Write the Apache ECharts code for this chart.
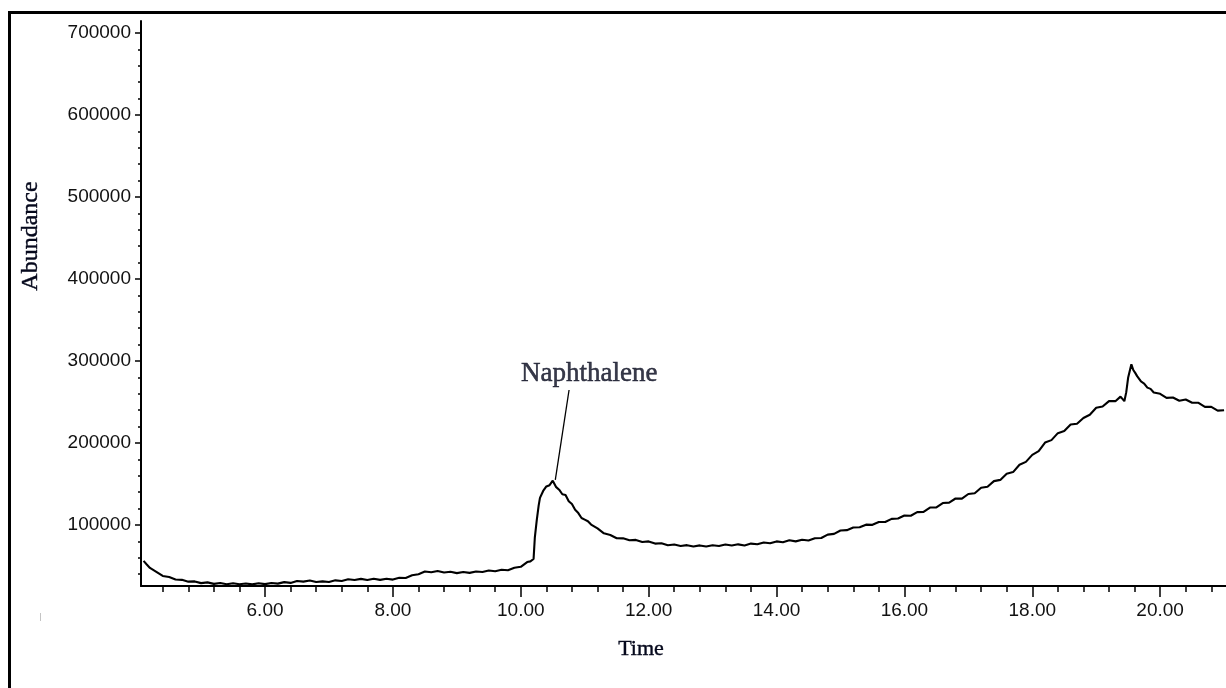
<!DOCTYPE html>
<html>
<head>
<meta charset="utf-8">
<script src="https://cdn.jsdelivr.net/npm/echarts@6/dist/echarts.min.js"></script>
<style>
  html, body { margin: 0; padding: 0; background: #ffffff; }
  #chart { width: 1226px; height: 688px; }
</style>
</head>
<body>
<div id="chart"></div>
<script>
// Total ion chromatogram: retention time (min) and abundance
const times = [
  4.10, 4.15, 4.20, 4.30, 4.40, 4.50, 4.60, 4.70, 4.80, 4.90,
  5.00, 5.10, 5.20, 5.30, 5.40, 5.50, 5.60, 5.70, 5.80, 5.90,
  6.00, 6.10, 6.20, 6.30, 6.40, 6.50, 6.60, 6.70, 6.80, 6.90,
  7.00, 7.10, 7.20, 7.30, 7.40, 7.50, 7.60, 7.70, 7.80, 7.90,
  8.00, 8.10, 8.20, 8.30, 8.40, 8.50, 8.60, 8.70, 8.80, 8.90,
  9.00, 9.10, 9.20, 9.30, 9.40, 9.50, 9.60, 9.70, 9.80, 9.90,
  10.00, 10.10, 10.15, 10.20, 10.22, 10.25, 10.28, 10.30, 10.35, 10.40,
  10.45, 10.50, 10.55, 10.60, 10.65, 10.70, 10.75, 10.80, 10.85, 10.90,
  10.95, 11.00, 11.05, 11.10, 11.20, 11.30, 11.40, 11.50, 11.60, 11.70,
  11.80, 11.90, 12.00, 12.10, 12.20, 12.30, 12.40, 12.50, 12.60, 12.70,
  12.80, 12.90, 13.00, 13.10, 13.20, 13.30, 13.40, 13.50, 13.60, 13.70,
  13.80, 13.90, 14.00, 14.10, 14.20, 14.30, 14.40, 14.50, 14.60, 14.70,
  14.80, 14.90, 15.00, 15.10, 15.20, 15.30, 15.40, 15.50, 15.60, 15.70,
  15.80, 15.90, 16.00, 16.10, 16.20, 16.30, 16.40, 16.50, 16.60, 16.70,
  16.80, 16.90, 17.00, 17.10, 17.20, 17.30, 17.40, 17.50, 17.60, 17.70,
  17.80, 17.90, 18.00, 18.10, 18.20, 18.30, 18.40, 18.50, 18.60, 18.70,
  18.80, 18.90, 19.00, 19.10, 19.20, 19.30, 19.38, 19.44, 19.47, 19.50,
  19.55, 19.58, 19.61, 19.64, 19.70, 19.75, 19.80, 19.85, 19.90, 20.00,
  20.10, 20.20, 20.30, 20.40, 20.50, 20.60, 20.70, 20.80, 20.90, 21.00
];
const abundance = [
  56200, 51800, 47600, 42900, 37800, 36600, 33500, 33100, 30900, 31200,
  29100, 30000, 28200, 29300, 27800, 28900, 27700, 28600, 27600, 28900,
  27900, 29300, 28500, 30300, 29400, 31700, 30900, 32300, 30400, 31200,
  30400, 32500, 31700, 33800, 32900, 34300, 33000, 34500, 33100, 34400,
  33400, 35700, 35400, 38600, 40000, 43300, 42300, 43800, 42000, 43000,
  41300, 42700, 41600, 43300, 42600, 44500, 43600, 45500, 44900, 47800,
  49000, 54800, 55600, 58500, 85000, 106000, 124000, 133000, 141500, 147000,
  148500, 154000, 146500, 143000, 137500, 136500, 129000, 125500, 118500, 114500,
  108500, 106500, 104500, 100500, 95800, 89800, 87800, 83900, 83700, 81400,
  81800, 79300, 80000, 77300, 77700, 75300, 76200, 74300, 75400, 73800,
  75100, 73700, 75200, 74300, 76200, 74900, 76400, 75000, 77300, 76500,
  78600, 77700, 80000, 79000, 81300, 80000, 82000, 81000, 83800, 84200,
  88300, 89200, 93300, 93700, 96900, 97200, 100400, 100200, 103600, 103700,
  107500, 107900, 111600, 111300, 115700, 115900, 121300, 121400, 126800, 127300,
  132300, 132200, 137800, 138700, 145500, 146600, 153500, 155000, 162500, 164500,
  173500, 177000, 185500, 190000, 200500, 203500, 212000, 214500, 222500, 223500,
  230500, 234500, 243000, 244500, 251000, 251000, 256500, 251000, 262000, 280000,
  296000, 289000, 285500, 281500, 275000, 272500, 267500, 266000, 261500, 260000,
  255000, 255500, 251500, 253000, 249000, 249000, 244000, 244000, 239500, 240000
];

// Labelled peak and its leader line (time, abundance)
const peakName = 'Naphthalene';
const leaderLine = [[10.54, 154900], [10.755, 264600]];
const peakLabelAt = [11.07, 284100];

// Axis extents and tick values
const timeRange = [4.06, 21.03];
const abundanceRange = [25600, 714600];
const timeMajorTicks = [6, 8, 10, 12, 14, 16, 18, 20];
const abundanceMajorTicks = [100000, 200000, 300000, 400000, 500000, 600000, 700000];

const timeMinorTicks = [];
for (let i = 11; i <= 52; i++) {
  const v = Math.round(i * 0.4 * 100) / 100;
  if (v >= timeRange[0] && v <= timeRange[1] && Math.abs(v / 2 - Math.round(v / 2)) > 1e-6) timeMinorTicks.push(v);
}
const abundanceMinorTicks = [];
for (let v = 40000; v <= 700000; v += 20000) {
  if (v % 100000 !== 0) abundanceMinorTicks.push(v);
}

const numFont = '"Liberation Sans Narrow", "Arial Narrow", "Liberation Sans", Arial, sans-serif';
const serifFont = '"Liberation Serif", "Times New Roman", serif';
const inkText = '#05081c';

const chart = echarts.init(document.getElementById('chart'), null, { renderer: 'canvas' });

const series = times.map((t, i) => [t, abundance[i]]);

const option = {
  animation: false,
  backgroundColor: '#ffffff',
  grid: { left: 141, right: 0, top: 21, bottom: 102, containLabel: false },
  xAxis: [
    {
      type: 'value', min: timeRange[0], max: timeRange[1],
      position: 'bottom',
      axisLine: { show: true, onZero: false, lineStyle: { color: '#000', width: 2 } },
      axisTick: { show: true, customValues: timeMajorTicks, length: 11, lineStyle: { color: '#000', width: 1.5 } },
      axisLabel: {
        show: true, customValues: timeMajorTicks, margin: 15,
        formatter: v => Number(v).toFixed(2),
        color: '#111', fontFamily: numFont, fontSize: 19
      },
      splitLine: { show: false }
    },
    {
      type: 'value', min: timeRange[0], max: timeRange[1],
      position: 'bottom', offset: 0,
      axisLine: { show: false },
      axisTick: { show: true, customValues: timeMinorTicks, length: 6, lineStyle: { color: '#000', width: 1.5 } },
      axisLabel: { show: false },
      splitLine: { show: false }
    }
  ],
  yAxis: [
    {
      type: 'value', min: abundanceRange[0], max: abundanceRange[1],
      position: 'left',
      axisLine: { show: true, onZero: false, lineStyle: { color: '#000', width: 2 } },
      axisTick: { show: true, customValues: abundanceMajorTicks, length: 6, lineStyle: { color: '#000', width: 1.5 } },
      axisLabel: {
        show: true, customValues: abundanceMajorTicks, margin: 10,
        formatter: v => String(v),
        color: '#111', fontFamily: numFont, fontSize: 19
      },
      splitLine: { show: false }
    },
    {
      type: 'value', min: abundanceRange[0], max: abundanceRange[1],
      position: 'left', offset: 0,
      axisLine: { show: false },
      axisTick: { show: true, customValues: abundanceMinorTicks, length: 3, lineStyle: { color: '#000', width: 1.5 } },
      axisLabel: { show: false },
      splitLine: { show: false }
    }
  ],
  series: [
    {
      name: 'TIC', type: 'line', xAxisIndex: 0, yAxisIndex: 0,
      data: series, showSymbol: false, symbol: 'none',
      lineStyle: { color: '#000', width: 2.1 },
      z: 3
    },
    {
      name: 'leader', type: 'line', xAxisIndex: 0, yAxisIndex: 0,
      data: leaderLine, showSymbol: false, symbol: 'none',
      lineStyle: { color: '#000', width: 1.3 },
      z: 4
    },
    {
      name: 'peak', type: 'scatter', xAxisIndex: 0, yAxisIndex: 0,
      data: [peakLabelAt], symbolSize: 0,
      label: {
        show: true, position: 'inside', formatter: peakName,
        fontFamily: serifFont, fontSize: 27, color: inkText,
        textBorderColor: inkText, textBorderWidth: 0.5
      },
      z: 5
    }
  ],
  graphic: [
    {
      type: 'rect', silent: true,
      shape: { x: 9.5, y: 12.5, width: 1400, height: 900 },
      style: { fill: 'none', stroke: '#000', lineWidth: 3 }
    },
    {
      type: 'text', silent: true,
      x: 31, y: 236, rotation: Math.PI / 2,
      style: {
        text: 'Abundance', fontFamily: serifFont, fontSize: 24, fill: inkText,
        stroke: inkText, lineWidth: 0.4,
        align: 'center', verticalAlign: 'middle'
      }
    },
    {
      type: 'text', silent: true,
      x: 641, y: 649,
      style: {
        text: 'Time', fontFamily: serifFont, fontSize: 22, fill: inkText,
        stroke: inkText, lineWidth: 0.4,
        align: 'center', verticalAlign: 'middle'
      }
    },
    {
      type: 'line', silent: true,
      shape: { x1: 40.5, y1: 613, x2: 40.5, y2: 621 },
      style: { stroke: '#c4c4c4', lineWidth: 1 }
    }
  ]
};

chart.setOption(option);
</script>
</body>
</html>
